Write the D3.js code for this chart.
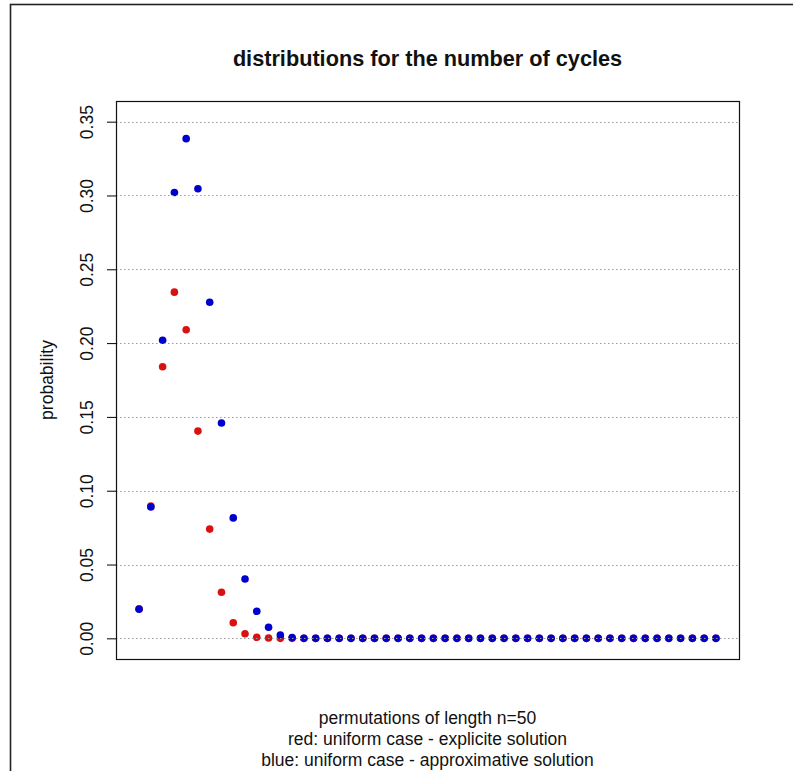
<!DOCTYPE html>
<html>
<head>
<meta charset="utf-8">
<script src="https://cdn.jsdelivr.net/npm/d3@7/dist/d3.min.js"></script>
<style>
  html, body { margin: 0; padding: 0; background: #fff; }
  svg { display: block; font-family: "Liberation Sans", Arial, sans-serif; }
</style>
</head>
<body>
<svg id="chart" width="793" height="771"></svg>
<script>
// number of cycles k = 1..50 for permutations of length 50
const cycles = d3.range(1, 51);

// exact probabilities (uniform case, explicit solution)
const exactProb = [
  0.0200, 0.0896, 0.1840, 0.2345, 0.2090, 0.1404, 0.0740, 0.0312, 0.0106, 0.0031,
  0.0007, 0.0002, 0.0000, 0.0000, 0.0000, 0.0000, 0.0000, 0.0000, 0.0000, 0.0000,
  0.0000, 0.0000, 0.0000, 0.0000, 0.0000, 0.0000, 0.0000, 0.0000, 0.0000, 0.0000,
  0.0000, 0.0000, 0.0000, 0.0000, 0.0000, 0.0000, 0.0000, 0.0000, 0.0000, 0.0000,
  0.0000, 0.0000, 0.0000, 0.0000, 0.0000, 0.0000, 0.0000, 0.0000, 0.0000, 0.0000
];

// approximative probabilities (uniform case)
const approxProb = [
  0.0197, 0.0890, 0.2019, 0.3020, 0.3385, 0.3046, 0.2277, 0.1459, 0.0816, 0.0402,
  0.0183, 0.0075, 0.0022, 0.0005, 0.0000, 0.0000, 0.0000, 0.0000, 0.0000, 0.0000,
  0.0000, 0.0000, 0.0000, 0.0000, 0.0000, 0.0000, 0.0000, 0.0000, 0.0000, 0.0000,
  0.0000, 0.0000, 0.0000, 0.0000, 0.0000, 0.0000, 0.0000, 0.0000, 0.0000, 0.0000,
  0.0000, 0.0000, 0.0000, 0.0000, 0.0000, 0.0000, 0.0000, 0.0000, 0.0000, 0.0000
];

const yTicks = [0.00, 0.05, 0.10, 0.15, 0.20, 0.25, 0.30, 0.35];

const titleText = "distributions for the number of cycles";
const yLabel = "probability";
const xLabelLines = [
  "permutations of length n=50",
  "red: uniform case - explicite solution",
  "blue: uniform case - approximative solution"
];

const plot = { left: 116, right: 739, top: 101, bottom: 659 };
const colExact = "#d81212";
const colApprox = "#0000cc";

const svg = d3.select("#chart");

// outer frame
svg.append("rect")
  .attr("x", 10.5).attr("y", 4.5)
  .attr("width", 800).attr("height", 800)
  .attr("fill", "none").attr("stroke", "#222").attr("stroke-width", 1.6);

// scales with 4% padding on each side
const xPad = (50 - 1) * 0.04;
const x = d3.scaleLinear()
  .domain([1 - xPad, 50 + xPad])
  .range([plot.left, plot.right]);
const yPad = 0.35 * 0.04;
const y = d3.scaleLinear()
  .domain([0 - yPad, 0.35 + yPad])
  .range([plot.bottom, plot.top]);

// y axis
const yAxis = svg.append("g")
  .attr("transform", `translate(${plot.left},0)`)
  .call(d3.axisLeft(y).tickValues(yTicks).tickFormat(d3.format(".2f")).tickSize(9));
yAxis.select(".domain").remove();
yAxis.selectAll(".tick line").attr("stroke", "#000").attr("stroke-width", 1);
yAxis.selectAll(".tick text")
  .attr("x", 0).attr("y", -23).attr("dy", null)
  .attr("transform", "rotate(-90)")
  .attr("text-anchor", "middle")
  .attr("fill", "#111")
  .style("font-size", "17.5px")
  .style("font-family", "'Liberation Sans', Arial, sans-serif");

// points: exact first, approximative on top
svg.append("g").selectAll("circle")
  .data(cycles.map((k, i) => ({ k, p: exactProb[i] })))
  .join("circle")
  .attr("cx", d => x(d.k)).attr("cy", d => y(d.p))
  .attr("r", 3.8).attr("fill", colExact);

svg.append("g").selectAll("circle")
  .data(cycles.map((k, i) => ({ k, p: approxProb[i] })))
  .join("circle")
  .attr("cx", d => x(d.k)).attr("cy", d => y(d.p))
  .attr("r", 3.8).attr("fill", colApprox);

// dotted horizontal reference lines, drawn over the points
svg.append("g").selectAll("line")
  .data(yTicks)
  .join("line")
  .attr("x1", plot.left).attr("x2", plot.right)
  .attr("y1", d => Math.round(y(d)) + 0.5).attr("y2", d => Math.round(y(d)) + 0.5)
  .attr("stroke", "#9a9a9a").attr("stroke-width", 1)
  .attr("stroke-dasharray", "1.5,2.5");

// plot box
svg.append("rect")
  .attr("x", plot.left + 0.5).attr("y", plot.top + 0.5)
  .attr("width", plot.right - plot.left).attr("height", plot.bottom - plot.top)
  .attr("fill", "none").attr("stroke", "#111").attr("stroke-width", 1.2);

// title
svg.append("text")
  .attr("x", (plot.left + plot.right) / 2).attr("y", 66)
  .attr("text-anchor", "middle")
  .style("font-size", "21.7px").style("font-weight", "bold")
  .attr("fill", "#111")
  .text(titleText);

// y label
svg.append("text")
  .attr("transform", `translate(53,${(plot.top + plot.bottom) / 2}) rotate(-90)`)
  .attr("text-anchor", "middle")
  .style("font-size", "17.5px")
  .attr("fill", "#111")
  .text(yLabel);

// x label lines
svg.append("g").selectAll("text")
  .data(xLabelLines)
  .join("text")
  .attr("x", (plot.left + plot.right) / 2)
  .attr("y", (d, i) => 724 + i * 21)
  .attr("text-anchor", "middle")
  .style("font-size", "17.5px")
  .attr("fill", "#111")
  .text(d => d);
</script>
</body>
</html>
